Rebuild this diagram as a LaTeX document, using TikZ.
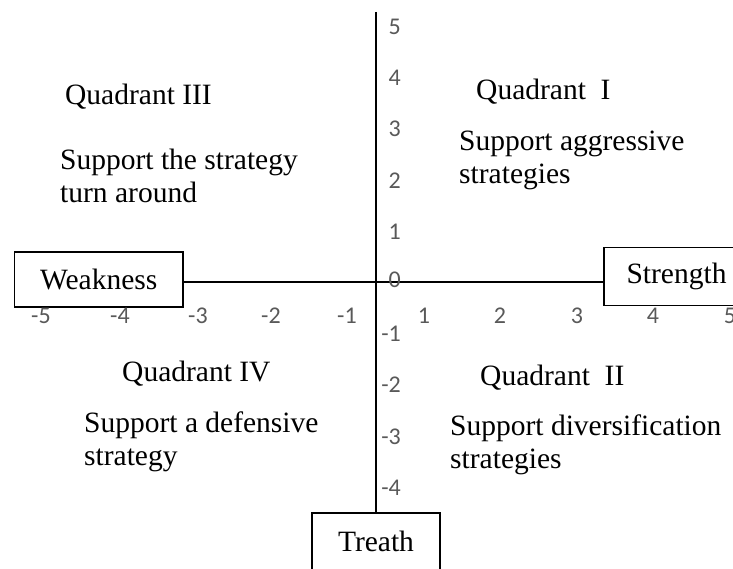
\documentclass[tikz,border=0pt]{standalone}
\usepackage{fontspec}
\setmainfont{Liberation Serif}
\newfontfamily\tickfont{Carlito}
\definecolor{tickgray}{HTML}{595959}
\begin{document}
\begin{tikzpicture}[x=1pt,y=-1pt,
  axisline/.style={line width=1.8pt, black},
  boxnode/.style={draw=black, line width=1.4pt, fill=white, inner sep=0pt,
    font=\fontsize{29.5}{33}\selectfont},
  quadtext/.style={anchor=base west, inner sep=0pt, align=left,
    font=\fontsize{29.5}{33}\selectfont},
  vtick/.style={anchor=east, inner sep=0pt, text=tickgray,
    font=\tickfont\fontsize{24}{24}\selectfont},
  htick/.style={anchor=center, inner sep=0pt, text=tickgray,
    font=\tickfont\fontsize{24}{24}\selectfont}]
\useasboundingbox (0,0) rectangle (733,569);
\clip (0,0) rectangle (733,569);

% origin and axis top
\coordinate (O) at (376,282);
\coordinate (top) at (376,12);

% boxes
\node[boxnode, minimum width=168.5pt, minimum height=55pt] (weak) at (98.75,279.5) {Weakness};
\node[boxnode, minimum width=145pt, minimum height=58pt] (str) at (676.5,276.5) {Strength};
\node[boxnode, minimum width=128pt, minimum height=57pt] (tr) at (376,541.5) {Treath};

% axes
\draw[axisline] (weak.east |- O) -- (str.west |- O);
\draw[axisline] (top) -- (O |- tr.north);

% vertical tick labels
\foreach \yy/\lab [count=\i] in {27/5,78/4,129/3,181/2,232/1,280/0,334/-1,385/-2,437/-3,488/-4}
  \node[vtick] (vt\i) at (401,\yy) {\lab};

% horizontal tick labels
\foreach \xx/\lab [count=\i] in {41/-5,120/-4,198/-3,271/-2,347/-1,424/1,500/2,577/3,653/4,730/5}
  \node[htick] (ht\i) at (\xx,316) {\lab};

% quadrant texts (base = baseline of the last line)
\node[quadtext] (q3) at (65,104.5) {Quadrant III};
\node[quadtext] (s3) at (60,203) {Support the strategy\\turn around};
\node[quadtext] (q1) at (476,99.5) {Quadrant\ \ I};
\node[quadtext] (s1) at (459,184) {Support aggressive\\strategies};
\node[quadtext] (q4) at (122,381) {Quadrant IV};
\node[quadtext] (s4) at (84,465) {Support a defensive\\strategy};
\node[quadtext] (q2) at (480,385) {Quadrant\ \ II};
\node[quadtext] (s2) at (450,468) {Support diversification\\strategies};
\end{tikzpicture}
\end{document}
